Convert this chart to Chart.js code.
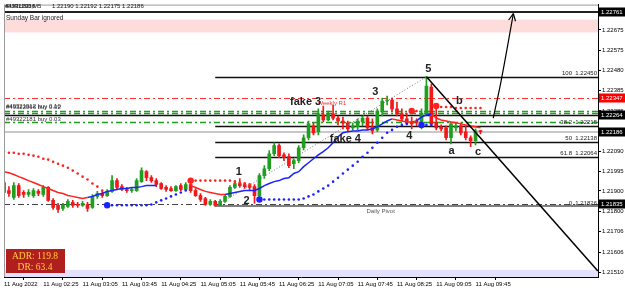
<!DOCTYPE html>
<html>
<head>
<meta charset="utf-8">
<script src="https://cdn.jsdelivr.net/npm/chart.js@4.4.0/dist/chart.umd.min.js"></script>
<style>
  html, body { margin: 0; padding: 0; background: #fff; }
  canvas { display: block; }
</style>
</head>
<body>
<canvas id="chart" width="625" height="292"></canvas>
<script>
// EURUSD M5, 11 Aug 2022 01:45 - 09:50
const open = [
  1.21941, 1.21902, 1.21869, 1.21926, 1.21893, 1.21883, 1.21878, 1.21898, 1.21883, 1.21917,
  1.21855, 1.21831, 1.21816, 1.21826, 1.21845, 1.21835, 1.21831, 1.21835, 1.21821, 1.21874,
  1.21888, 1.21878, 1.21898, 1.21950, 1.21921, 1.21907, 1.21902, 1.21902, 1.21945, 1.21993,
  1.21964, 1.21950, 1.21936, 1.21917, 1.21912, 1.21902, 1.21926, 1.21907, 1.21931, 1.21902,
  1.21878, 1.21864, 1.21835, 1.21850, 1.21831, 1.21850, 1.21874, 1.21917, 1.21936, 1.21931,
  1.21926, 1.21921, 1.21878, 1.21974, 1.22007, 1.22079, 1.22118, 1.22074, 1.22065, 1.22031,
  1.22046, 1.22108, 1.22156, 1.22213, 1.22185, 1.22266, 1.22242, 1.22271, 1.22251, 1.22237,
  1.22228, 1.22204, 1.22209, 1.22232, 1.22251, 1.22209, 1.22194, 1.22280, 1.22333, 1.22338,
  1.22295, 1.22271, 1.22247, 1.22232, 1.22237, 1.22228, 1.22275, 1.22400, 1.22232, 1.22209,
  1.22204, 1.22156, 1.22204, 1.22213, 1.22185, 1.22156, 1.22142, 1.22190
];
const high = [
  1.21960, 1.21921, 1.21941, 1.21936, 1.21902, 1.21907, 1.21912, 1.21907, 1.21926, 1.21921,
  1.21864, 1.21840, 1.21840, 1.21859, 1.21855, 1.21845, 1.21850, 1.21845, 1.21883, 1.21898,
  1.21898, 1.21907, 1.21974, 1.21960, 1.21931, 1.21917, 1.21917, 1.21960, 1.22012, 1.21998,
  1.21974, 1.21960, 1.21941, 1.21926, 1.21921, 1.21926, 1.21936, 1.21941, 1.21941, 1.21912,
  1.21888, 1.21869, 1.21859, 1.21855, 1.21859, 1.21883, 1.21926, 1.21950, 1.21960, 1.21941,
  1.21936, 1.21931, 1.21984, 1.22022, 1.22094, 1.22132, 1.22127, 1.22084, 1.22079, 1.22055,
  1.22118, 1.22170, 1.22237, 1.22228, 1.22295, 1.22309, 1.22285, 1.22314, 1.22261, 1.22256,
  1.22237, 1.22228, 1.22247, 1.22261, 1.22261, 1.22247, 1.22295, 1.22347, 1.22357, 1.22347,
  1.22328, 1.22295, 1.22275, 1.22256, 1.22247, 1.22295, 1.22450, 1.22414, 1.22318, 1.22218,
  1.22213, 1.22232, 1.22228, 1.22228, 1.22213, 1.22165, 1.22199, 1.22192
];
const low = [
  1.21883, 1.21874, 1.21859, 1.21869, 1.21869, 1.21874, 1.21869, 1.21878, 1.21874, 1.21850,
  1.21811, 1.21797, 1.21807, 1.21821, 1.21821, 1.21821, 1.21826, 1.21802, 1.21816, 1.21864,
  1.21869, 1.21874, 1.21893, 1.21907, 1.21902, 1.21893, 1.21893, 1.21898, 1.21941, 1.21950,
  1.21941, 1.21921, 1.21907, 1.21898, 1.21898, 1.21898, 1.21902, 1.21902, 1.21893, 1.21874,
  1.21850, 1.21831, 1.21831, 1.21826, 1.21831, 1.21845, 1.21869, 1.21912, 1.21917, 1.21912,
  1.21902, 1.21840, 1.21869, 1.21960, 1.21998, 1.22070, 1.22060, 1.22046, 1.22012, 1.22007,
  1.22036, 1.22098, 1.22146, 1.22170, 1.22170, 1.22232, 1.22237, 1.22242, 1.22218, 1.22199,
  1.22185, 1.22194, 1.22194, 1.22213, 1.22194, 1.22175, 1.22185, 1.22261, 1.22314, 1.22285,
  1.22261, 1.22237, 1.22218, 1.22199, 1.22213, 1.22199, 1.22266, 1.22213, 1.22194, 1.22189,
  1.22146, 1.22127, 1.22189, 1.22170, 1.22146, 1.22113, 1.22122, 1.22175
];
const close = [
  1.21893, 1.21888, 1.21926, 1.21878, 1.21883, 1.21893, 1.21902, 1.21888, 1.21917, 1.21855,
  1.21821, 1.21811, 1.21831, 1.21850, 1.21831, 1.21831, 1.21840, 1.21816, 1.21874, 1.21888,
  1.21878, 1.21898, 1.21950, 1.21917, 1.21907, 1.21902, 1.21907, 1.21950, 1.21998, 1.21964,
  1.21950, 1.21931, 1.21912, 1.21907, 1.21902, 1.21921, 1.21907, 1.21931, 1.21902, 1.21878,
  1.21859, 1.21835, 1.21850, 1.21831, 1.21850, 1.21874, 1.21917, 1.21936, 1.21926, 1.21921,
  1.21917, 1.21878, 1.21974, 1.22007, 1.22079, 1.22118, 1.22070, 1.22060, 1.22022, 1.22046,
  1.22108, 1.22156, 1.22223, 1.22180, 1.22271, 1.22242, 1.22271, 1.22251, 1.22237, 1.22228,
  1.22199, 1.22213, 1.22237, 1.22251, 1.22204, 1.22189, 1.22285, 1.22333, 1.22338, 1.22295,
  1.22271, 1.22247, 1.22228, 1.22223, 1.22228, 1.22275, 1.22405, 1.22223, 1.22204, 1.22199,
  1.22156, 1.22223, 1.22213, 1.22180, 1.22156, 1.22142, 1.22189, 1.22186
];

// trend moving average (red falling, blue rising)
const maLine = [
  1.21993, 1.21988, 1.21979, 1.21969, 1.21960, 1.21950, 1.21941, 1.21931, 1.21921, 1.21912,
  1.21902, 1.21893, 1.21888, 1.21878, 1.21874, 1.21869, 1.21864, 1.21869, 1.21874, 1.21883,
  1.21888, 1.21898, 1.21902, 1.21907, 1.21912, 1.21912, 1.21917, 1.21917, 1.21921, 1.21926,
  1.21926, 1.21926, null, null, null, null, null, null, 1.21926, 1.21917,
  1.21907, 1.21898, 1.21893, 1.21888, 1.21883, 1.21883, 1.21888, 1.21893, 1.21898, 1.21902,
  1.21902, 1.21902, 1.21912, 1.21926, 1.21936, 1.21945, 1.21950, 1.21960, 1.21964, 1.21984,
  1.21993, 1.22017, 1.22036, 1.22055, 1.22074, 1.22089, 1.22108, 1.22132, 1.22161, 1.22180,
  1.22185, 1.22189, 1.22189, 1.22194, 1.22194, 1.22199, 1.22209, 1.22223, 1.22237, 1.22247,
  1.22242, 1.22237, 1.22232, 1.22232, 1.22237, 1.22256, 1.22266, 1.22271, 1.22251, 1.22242,
  1.22237, 1.22232, 1.22228, 1.22223, 1.22218, 1.22213, 1.22209, 1.22204
];
const maDownRanges = [[0, 17], [38, 45], [80, 84], [88, 97]];

// trailing stop dots
const stopAbove = [
  1.22089, 1.22084, 1.22084, 1.22079, 1.22079, 1.22074, 1.22070, 1.22065, 1.22055, 1.22051,
  1.22041, 1.22031, 1.22022, 1.22012, 1.21998, 1.21984, 1.21969, 1.21955, 1.21936, 1.21921,
  1.21902, null, null, null, null, null, null, null, null, null,
  null, null, null, null, null, null, null, null, 1.21950, 1.21950,
  1.21950, 1.21950, 1.21950, 1.21950, 1.21950, 1.21950, 1.21950, 1.21945, 1.21941, 1.21936,
  1.21931, null, null, null, null, null, null, null, null, null,
  null, null, null, null, null, null, null, null, null, null,
  null, null, null, null, null, null, null, null, null, null,
  null, null, null, 1.22285, 1.22285, null, null, null, 1.22309, 1.22304,
  1.22304, 1.22304, 1.22299, 1.22299, 1.22299, 1.22299, 1.22299, 1.22299
];
const stopBelow = [
  null, null, null, null, null, null, null, null, null, null,
  null, null, null, null, null, null, null, null, null, null,
  null, 1.21831, 1.21831, 1.21831, 1.21831, 1.21831, 1.21831, 1.21831, 1.21831, 1.21831,
  1.21835, 1.21845, 1.21855, 1.21864, 1.21874, 1.21883, 1.21893, 1.21902, null, null,
  null, null, null, null, null, null, null, null, null, null,
  null, null, 1.21859, 1.21859, 1.21859, 1.21859, 1.21859, 1.21859, 1.21859, 1.21859,
  1.21859, 1.21864, 1.21874, 1.21883, 1.21898, 1.21912, 1.21926, 1.21945, 1.21964, 1.21984,
  1.22003, 1.22022, 1.22041, 1.22065, 1.22084, 1.22108, 1.22132, 1.22156, 1.22180, 1.22194,
  1.22209, 1.22218, 1.22223, null, null, 1.22218, 1.22218, 1.22218, null, null,
  null, null, null, null, null, null, null, null
];

const barIndex = open.map((_, i) => i);
const timeLabels = ['11 Aug 2022', '11 Aug 02:25', '11 Aug 03:05', '11 Aug 03:45', '11 Aug 04:25',
  '11 Aug 05:05', '11 Aug 05:45', '11 Aug 06:25', '11 Aug 07:05', '11 Aug 07:45',
  '11 Aug 08:25', '11 Aug 09:05', '11 Aug 09:45'];
const priceTicks = [1.21510, 1.21606, 1.21706, 1.21800, 1.21900, 1.21995, 1.22090,
  1.22190, 1.22285, 1.22385, 1.22480, 1.22575, 1.22675, 1.22761];

// fibonacci from wave 2 low to wave 5 high
const fibTexts = ['0', '38.2', '50', '61.8', '100'];
const fibPrices = [1.21826, 1.22215, 1.22138, 1.22064, 1.22450];
const wave2Bar = 43, wave5Bar = 86;

// horizontal objects
const orderTexts = ['#49321912 buy 0.10', '#49322066 buy 0.02', '#49322181 buy 0.03'];
const orderPrices = [1.22285, 1.22275, 1.22232];
const weeklyR1 = 1.22347, dailyPivot = 1.21835, stopLevel = 1.22264, bidPrice = 1.22186, topLevel = 1.22761;
const sundayBand = [1.22663, 1.22725];
const markerPrices = [1.22761, 1.22347, 1.22264, 1.22186, 1.21835];

// drawn trend line and projected arrow (bar index, price)
const trendEnd = { x: 120.9, y: 1.21515 };
const arrowPath = [{ x: 99.6, y: 1.22251 }, { x: 101.2, y: 1.22429 }, { x: 103.7, y: 1.22754 }];

// wave labels
const notes = [
  { t: '1', x: 47.8, y: 1.21993 }, { t: '2', x: 49.4, y: 1.21854 },
  { t: '3', x: 75.6, y: 1.22376 }, { t: 'fake 3', x: 61.4, y: 1.22328 },
  { t: 'fake 4', x: 69.5, y: 1.22151 }, { t: '4', x: 82.5, y: 1.22165 },
  { t: '5', x: 86.4, y: 1.22486 }, { t: 'b', x: 92.7, y: 1.22333 },
  { t: 'a', x: 91.1, y: 1.22094 }, { t: 'c', x: 96.5, y: 1.22089 }
];

const FONT = 'Liberation Sans';
const BULL = '#1f9e1f', BEAR = '#f01818', RED = '#ff2222', BLUE = '#1a22ff';
const candleColors = close.map((c, i) => c >= open[i] ? BULL : BEAR);
const isDown = i => maDownRanges.some(r => i >= r[0] && i <= r[1]);
const dotRadius = ctx => {
  const d = ctx.dataset.data, i = ctx.dataIndex;
  return (i > 0 && d[i - 1] == null) ? 3.2 : 1.3;
};

function hline(chart, price, x0, color, width, dash) {
  const { ctx, chartArea: a, scales: { y } } = chart;
  const py = Math.round(y.getPixelForValue(price)) + (width % 2 ? 0.5 : 0);
  ctx.save();
  ctx.strokeStyle = color;
  ctx.lineWidth = width;
  ctx.setLineDash(dash || []);
  ctx.beginPath();
  ctx.moveTo(x0, py);
  ctx.lineTo(a.right, py);
  ctx.stroke();
  ctx.restore();
}

const overlay = {
  id: 'overlay',
  beforeDatasetsDraw(chart) {
    const { ctx, chartArea: a, scales: { x, y } } = chart;
    ctx.save();
    // bands
    ctx.fillStyle = '#ffdcdc';
    const b0 = y.getPixelForValue(sundayBand[1]), b1 = y.getPixelForValue(sundayBand[0]);
    ctx.fillRect(a.left, b0, a.right - a.left, b1 - b0);
    ctx.fillStyle = '#e2e2ff';
    const lb = y.getPixelForValue(1.21520);
    ctx.fillRect(a.left, lb, a.right - a.left, a.bottom - lb);
    ctx.restore();

    hline(chart, topLevel, a.left, '#222', 2);
    hline(chart, bidPrice, a.left, '#c8c8c8', 2);
    hline(chart, weeklyR1, a.left, '#ff3030', 1, [6, 3, 2, 3]);
    orderPrices.forEach(p => hline(chart, p, a.left, '#1f9e1f', 1.5, [6, 3, 2, 3]));
    hline(chart, stopLevel, a.left, '#111', 1.5);
    const fx = x.getPixelForValue(wave2Bar);
    fibPrices.forEach((p, i) => hline(chart, p, fx, i === 0 ? '#808080' : '#111', i === 0 ? 2 : 1.5));
    hline(chart, dailyPivot, a.left, '#444', 1, [6, 3, 2, 3]);
  },
  afterDatasetsDraw(chart) {
    const { ctx, chartArea: a, scales: { x, y } } = chart;
    ctx.save();
    // arrow head
    const p1 = arrowPath[arrowPath.length - 2], p2 = arrowPath[arrowPath.length - 1];
    const tx = x.getPixelForValue(p2.x), ty = y.getPixelForValue(p2.y);
    const ang = Math.atan2(ty - y.getPixelForValue(p1.y), tx - x.getPixelForValue(p1.x));
    ctx.strokeStyle = '#000';
    ctx.lineWidth = 1.2;
    ctx.beginPath();
    [0.45, -0.45].forEach(d => {
      ctx.moveTo(tx, ty);
      ctx.lineTo(tx - 8 * Math.cos(ang + d), ty - 8 * Math.sin(ang + d));
    });
    ctx.stroke();

    // fib texts
    ctx.font = '6px "' + FONT + '"';
    ctx.fillStyle = '#222';
    ctx.textAlign = 'right';
    ctx.textBaseline = 'bottom';
    fibPrices.forEach((p, i) => {
      ctx.fillText(fibTexts[i] + '  ' + p.toFixed(5), a.right - 1, y.getPixelForValue(p) - 0.5);
    });

    // object descriptions
    ctx.textAlign = 'left';
    ctx.textBaseline = 'middle';
    ctx.fillStyle = '#333';
    ctx.fillText(orderTexts[0], a.left + 2, y.getPixelForValue(orderPrices[0]) - 5);
    ctx.fillText(orderTexts[1], a.left + 2, y.getPixelForValue(orderPrices[0]) - 4);
    ctx.fillText(orderTexts[2], a.left + 2, y.getPixelForValue(orderPrices[2]) - 3);
    ctx.fillStyle = '#ff3030';
    ctx.fillText('Weekly R1', x.getPixelForValue(63.8), y.getPixelForValue(weeklyR1) + 5);
    ctx.fillStyle = '#555';
    ctx.fillText('Daily Pivot', x.getPixelForValue(73.8), y.getPixelForValue(dailyPivot) + 7);
    ctx.font = '6.5px "' + FONT + '"';
    ctx.fillStyle = '#222';
    ctx.fillText('Sunday Bar ignored', a.left + 2, y.getPixelForValue(sundayBand[1]) - 1);

    // wave labels
    ctx.font = 'bold 11px "' + FONT + '"';
    ctx.textAlign = 'center';
    ctx.fillStyle = '#222';
    notes.forEach(n => ctx.fillText(n.t, x.getPixelForValue(n.x), y.getPixelForValue(n.y)));
    ctx.restore();
  },
  afterDraw(chart) {
    const { ctx, chartArea: a, scales: { y } } = chart;
    ctx.save();
    // frame
    ctx.strokeStyle = '#9a9a9a';
    ctx.lineWidth = 1;
    ctx.beginPath();
    ctx.moveTo(a.left + 0.5, a.top);
    ctx.lineTo(a.left + 0.5, a.bottom);
    ctx.moveTo(a.left, a.top + 0.5);
    ctx.lineTo(a.right, a.top + 0.5);
    ctx.stroke();

    // price markers on the axis
    ctx.font = '6px "' + FONT + '"';
    ctx.textAlign = 'left';
    ctx.textBaseline = 'middle';
    markerPrices.forEach(p => {
      const py = Math.round(y.getPixelForValue(p));
      ctx.fillStyle = p === weeklyR1 ? '#ff0000' : '#000';
      ctx.fillRect(a.right + 1, py - 4.5, 26, 9);
      ctx.fillStyle = '#fff';
      ctx.fillText(p.toFixed(5), a.right + 3, py);
    });

    // header
    ctx.fillStyle = '#111';
    ctx.fillText('#49322066', a.left + 1, 6);
    ctx.fillText('EURUSD,M5', a.left + 2, 6.5);
    ctx.fillText('1.22190 1.22192 1.22175 1.22186', a.left + 48, 6);

    // ADR box
    ctx.fillStyle = '#b01e1e';
    ctx.fillRect(a.left + 2, 249, 59, 24);
    ctx.fillStyle = '#ffcf3a';
    ctx.font = '9.5px "Liberation Serif"';
    ctx.textAlign = 'center';
    ctx.fillText('ADR: 119.8', a.left + 31, 256);
    ctx.fillText('DR: 63.4', a.left + 31, 267);
    ctx.restore();
  }
};

const ctx = document.getElementById('chart').getContext('2d');
new Chart(ctx, {
  type: 'bar',
  data: {
    labels: barIndex,
    datasets: [
      { type: 'bar', data: low.map((l, i) => [l, high[i]]), backgroundColor: candleColors,
        barThickness: 1, grouped: false, order: 10 },
      { type: 'bar', data: open.map((o, i) => [o, close[i]]), backgroundColor: candleColors,
        barThickness: 3, grouped: false, minBarLength: 1, order: 9 },
      { type: 'line', data: maLine, borderColor: BLUE, borderWidth: 1.5, pointRadius: 0, spanGaps: false,
        segment: { borderColor: c => isDown(c.p1DataIndex) ? RED : BLUE }, order: 6 },
      { type: 'line', data: stopAbove, showLine: false, pointRadius: dotRadius, pointBorderWidth: 0,
        pointBackgroundColor: RED, order: 5 },
      { type: 'line', data: stopBelow, showLine: false, pointRadius: dotRadius, pointBorderWidth: 0,
        pointBackgroundColor: BLUE, order: 5 },
      { type: 'line', data: [{ x: wave2Bar, y: fibPrices[0] }, { x: wave5Bar, y: fibPrices[4] }],
        borderColor: '#777', borderWidth: 1, borderDash: [1, 2], pointRadius: 0, order: 4 },
      { type: 'line', data: [{ x: wave5Bar, y: fibPrices[4] }, trendEnd],
        borderColor: '#000', borderWidth: 1.5, pointRadius: 0, order: 3 },
      { type: 'line', data: arrowPath, borderColor: '#000', borderWidth: 1.2, tension: 0.4,
        pointRadius: 0, order: 2 }
    ]
  },
  options: {
    responsive: false,
    animation: false,
    devicePixelRatio: 1,
    layout: { padding: { left: 3, top: 3, right: 0, bottom: 0 } },
    plugins: { legend: { display: false }, tooltip: { enabled: false } },
    scales: {
      x: {
        type: 'linear', min: 0, max: 120.93, offset: false,
        grid: { drawOnChartArea: false, tickLength: 3, color: '#000' },
        border: { color: '#000' },
        afterBuildTicks: s => { s.ticks = timeLabels.map((_, k) => ({ value: k * 8 })); },
        afterFit: s => { s.height = 15; },
        ticks: {
          autoSkip: false, maxRotation: 0, align: 'start', padding: 1,
          font: { family: FONT, size: 6 }, color: '#000',
          callback: v => timeLabels[Math.round(v / 8)]
        }
      },
      y: {
        position: 'right', min: 1.21486, max: 1.22797,
        grid: { drawOnChartArea: false, tickLength: 3, color: '#000' },
        border: { color: '#000' },
        afterBuildTicks: s => { s.ticks = priceTicks.map(v => ({ value: v })); },
        afterFit: s => { s.width = 27; },
        ticks: { font: { family: FONT, size: 6 }, color: '#000', padding: 1, callback: v => v.toFixed(5) }
      }
    }
  },
  plugins: [overlay]
});
</script>
</body>
</html>
